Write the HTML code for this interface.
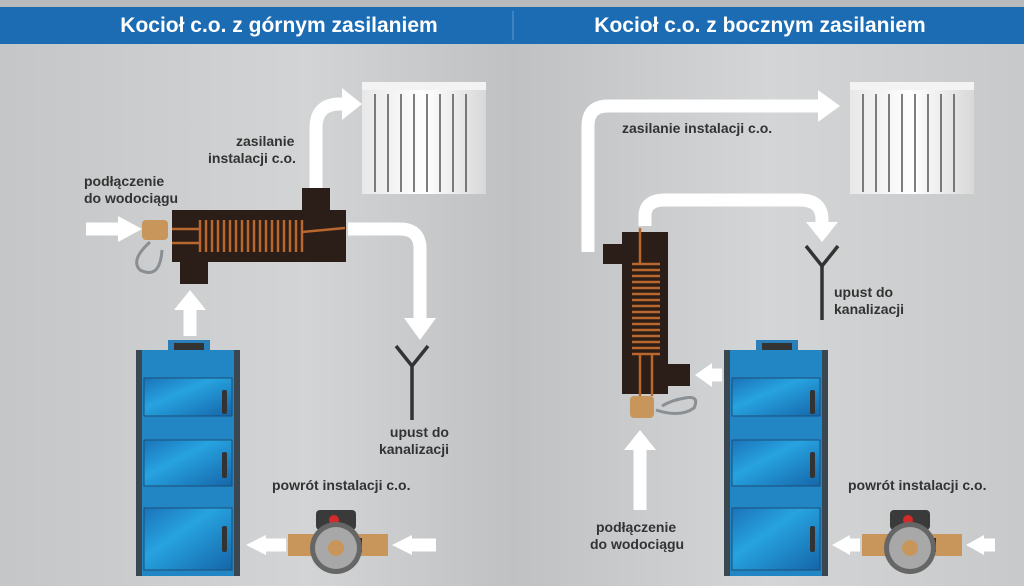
<!DOCTYPE html>
<html><head><meta charset="utf-8"><style>
html,body{margin:0;padding:0;width:1024px;height:586px;overflow:hidden;background:#c9cbcc}
svg{display:block}
text{font-family:"Liberation Sans",sans-serif;font-weight:bold}
</style></head><body>
<svg width="1024" height="586" viewBox="0 0 1024 586" xmlns="http://www.w3.org/2000/svg">
<defs>
<linearGradient id="bg" x1="0" y1="0" x2="1" y2="0">
<stop offset="0" stop-color="#c4c6c7"/><stop offset="0.3" stop-color="#d2d4d5"/><stop offset="0.5" stop-color="#bfc1c3"/><stop offset="0.75" stop-color="#d3d5d6"/><stop offset="1" stop-color="#c7c9ca"/>
</linearGradient>
<linearGradient id="door" x1="0" y1="0" x2="1" y2="1">
<stop offset="0" stop-color="#1b73b8"/><stop offset="0.4" stop-color="#27a3e0"/><stop offset="1" stop-color="#1565a8"/>
</linearGradient>
<linearGradient id="rad" x1="0" y1="0" x2="1" y2="0">
<stop offset="0" stop-color="#e8e8e8"/><stop offset="0.5" stop-color="#ffffff"/><stop offset="1" stop-color="#d8d8d8"/>
</linearGradient>
<g id="boiler">
<rect x="32" y="0" width="42" height="12" fill="#2a7fb8"/>
<rect x="38" y="3" width="30" height="7" fill="#333"/>
<rect x="0" y="10" width="104" height="226" fill="#2386c4"/>
<rect x="0" y="10" width="6" height="226" fill="#3b4750"/>
<rect x="98" y="10" width="6" height="226" fill="#3b4750"/>
<rect x="8" y="38" width="88" height="38" fill="url(#door)" stroke="#1a4f78"/>
<rect x="8" y="100" width="88" height="46" fill="url(#door)" stroke="#1a4f78"/>
<rect x="8" y="168" width="88" height="62" fill="url(#door)" stroke="#1a4f78"/>
<rect x="86" y="50" width="5" height="24" rx="2" fill="#333"/>
<rect x="86" y="112" width="5" height="26" rx="2" fill="#333"/>
<rect x="86" y="186" width="5" height="26" rx="2" fill="#333"/>
</g>
<g id="radiator">
<rect x="0" y="4" width="124" height="108" fill="url(#rad)"/>
<g stroke="#555" stroke-width="1.5">
<line x1="13" y1="12" x2="13" y2="110"/><line x1="26" y1="12" x2="26" y2="110"/><line x1="39" y1="12" x2="39" y2="110"/><line x1="52" y1="12" x2="52" y2="110"/><line x1="65" y1="12" x2="65" y2="110"/><line x1="78" y1="12" x2="78" y2="110"/><line x1="91" y1="12" x2="91" y2="110"/><line x1="104" y1="12" x2="104" y2="110"/></g>
<rect x="0" y="0" width="124" height="8" fill="#f3f3f3"/>
</g>
<g id="pump">
<rect x="0" y="24" width="30" height="22" fill="#c8955a"/>
<rect x="70" y="24" width="30" height="22" fill="#c8955a"/>
<rect x="26" y="28" width="48" height="14" fill="#333"/>
<rect x="28" y="0" width="40" height="20" rx="4" fill="#3a3a3a"/>
<circle cx="46" cy="10" r="5" fill="#d42a2a"/>
<circle cx="48" cy="38" r="26" fill="#666"/>
<circle cx="48" cy="38" r="21" fill="#a8a8a8"/>
<circle cx="48" cy="38" r="8" fill="#c8955a"/>
</g>
<g id="drain" stroke="#333" stroke-width="3.5" fill="none">
<polyline points="-2,0 14,20 30,0"/><line x1="14" y1="20" x2="14" y2="74"/>
</g>
</defs>
<rect width="1024" height="586" fill="url(#bg)"/>
<rect width="1024" height="7" fill="#b8babb"/>
<rect y="7" width="1024" height="37" fill="#1c6cb4"/>
<line x1="513" y1="11" x2="513" y2="40" stroke="#5b9ad2"/>
<text x="279" y="32" font-size="21" fill="#fff" text-anchor="middle">Kocioł c.o. z górnym zasilaniem</text>
<text x="760" y="32" font-size="21" fill="#fff" text-anchor="middle">Kocioł c.o. z bocznym zasilaniem</text>

<!-- LEFT -->
<use href="#radiator" x="362" y="82"/>
<use href="#boiler" x="136" y="340"/>
<use href="#pump" x="288" y="510"/>
<use href="#drain" x="398" y="346"/>
<g fill="none" stroke="#fff" stroke-width="13">
<path d="M316 190 V128 Q316 104 340 104 H344"/>
<path d="M348 229 H400 Q420 229 420 249 V318"/>
<path d="M86 229 H120"/>
<path d="M190 336 V308"/>
<path d="M436 545 H410"/>
<path d="M286 545 H262"/>
</g>
<g fill="#fff">
<polygon points="342,88 362,104 342,120"/>
<polygon points="404,318 436,318 420,340"/>
<polygon points="118,216 142,229 118,242"/>
<polygon points="174,310 206,310 190,290"/>
<polygon points="412,535 392,545 412,555"/>
<polygon points="266,535 246,545 266,555"/>
</g>
<rect x="172" y="210" width="174" height="52" fill="#2b1d17"/>
<rect x="302" y="188" width="28" height="24" fill="#2b1d17"/>
<rect x="180" y="260" width="28" height="24" fill="#2b1d17"/>
<g stroke="#b8672e" stroke-width="2.5">
<line x1="200" y1="220" x2="200" y2="252"/><line x1="206" y1="220" x2="206" y2="252"/><line x1="212" y1="220" x2="212" y2="252"/><line x1="218" y1="220" x2="218" y2="252"/><line x1="224" y1="220" x2="224" y2="252"/><line x1="230" y1="220" x2="230" y2="252"/><line x1="236" y1="220" x2="236" y2="252"/><line x1="242" y1="220" x2="242" y2="252"/><line x1="248" y1="220" x2="248" y2="252"/><line x1="254" y1="220" x2="254" y2="252"/><line x1="260" y1="220" x2="260" y2="252"/><line x1="266" y1="220" x2="266" y2="252"/><line x1="272" y1="220" x2="272" y2="252"/><line x1="278" y1="220" x2="278" y2="252"/><line x1="284" y1="220" x2="284" y2="252"/><line x1="290" y1="220" x2="290" y2="252"/><line x1="296" y1="220" x2="296" y2="252"/><line x1="302" y1="220" x2="302" y2="252"/>
<line x1="172" y1="229" x2="200" y2="229"/><line x1="172" y1="243" x2="200" y2="243"/><line x1="302" y1="232" x2="345" y2="228"/></g>
<rect x="142" y="220" width="26" height="20" rx="4" fill="#c8955a"/>
<path d="M150 242 Q130 260 140 270 Q160 280 162 250" fill="none" stroke="#8a8f94" stroke-width="3"/>
<g font-size="14" fill="#333">
<text x="236" y="146">zasilanie</text><text x="208" y="163">instalacji c.o.</text>
<text x="84" y="186">podłączenie</text><text x="84" y="203">do wodociągu</text>
<text x="449" y="437" text-anchor="end">upust do</text><text x="449" y="454" text-anchor="end">kanalizacji</text>
<text x="272" y="490">powrót instalacji c.o.</text>
</g>

<!-- RIGHT -->
<use href="#radiator" x="850" y="82"/>
<use href="#boiler" x="724" y="340"/>
<use href="#pump" x="862" y="510"/>
<use href="#drain" x="808" y="246"/>
<g fill="none" stroke="#fff" stroke-width="13">
<path d="M588 252 V126 Q588 106 608 106 H820"/>
<path d="M645 226 V216 Q645 200 665 200 H800 Q822 200 822 220 V222"/>
<path d="M640 510 V450"/>
<path d="M722 375 H710"/>
<path d="M995 545 H982"/>
<path d="M860 545 H848"/>
</g>
<g fill="#fff">
<polygon points="818,90 840,106 818,122"/>
<polygon points="806,222 838,222 822,242"/>
<polygon points="624,450 656,450 640,430"/>
<polygon points="712,363 695,375 712,387"/>
<polygon points="984,535 966,545 984,555"/>
<polygon points="850,535 832,545 850,555"/>
</g>
<rect x="622" y="232" width="46" height="162" fill="#2b1d17"/>
<rect x="603" y="244" width="22" height="20" fill="#2b1d17"/>
<rect x="666" y="364" width="24" height="22" fill="#2b1d17"/>
<g stroke="#b8672e" stroke-width="2.5">
<line x1="632" y1="264" x2="660" y2="264"/><line x1="632" y1="270" x2="660" y2="270"/><line x1="632" y1="276" x2="660" y2="276"/><line x1="632" y1="282" x2="660" y2="282"/><line x1="632" y1="288" x2="660" y2="288"/><line x1="632" y1="294" x2="660" y2="294"/><line x1="632" y1="300" x2="660" y2="300"/><line x1="632" y1="306" x2="660" y2="306"/><line x1="632" y1="312" x2="660" y2="312"/><line x1="632" y1="318" x2="660" y2="318"/><line x1="632" y1="324" x2="660" y2="324"/><line x1="632" y1="330" x2="660" y2="330"/><line x1="632" y1="336" x2="660" y2="336"/><line x1="632" y1="342" x2="660" y2="342"/><line x1="632" y1="348" x2="660" y2="348"/><line x1="632" y1="354" x2="660" y2="354"/>
<line x1="640" y1="228" x2="640" y2="264"/><line x1="640" y1="354" x2="640" y2="396"/><line x1="652" y1="354" x2="652" y2="396"/></g>
<rect x="630" y="396" width="24" height="22" rx="4" fill="#c8955a"/>
<path d="M656 410 Q680 418 694 408 Q700 395 685 398 Q672 400 662 406" fill="none" stroke="#8a8f94" stroke-width="3"/>
<g font-size="14" fill="#333">
<text x="622" y="133">zasilanie instalacji c.o.</text>
<text x="834" y="297">upust do</text><text x="834" y="314">kanalizacji</text>
<text x="596" y="532">podłączenie</text><text x="590" y="549">do wodociągu</text>
<text x="848" y="490">powrót instalacji c.o.</text>
</g>
</svg>
</body></html>
